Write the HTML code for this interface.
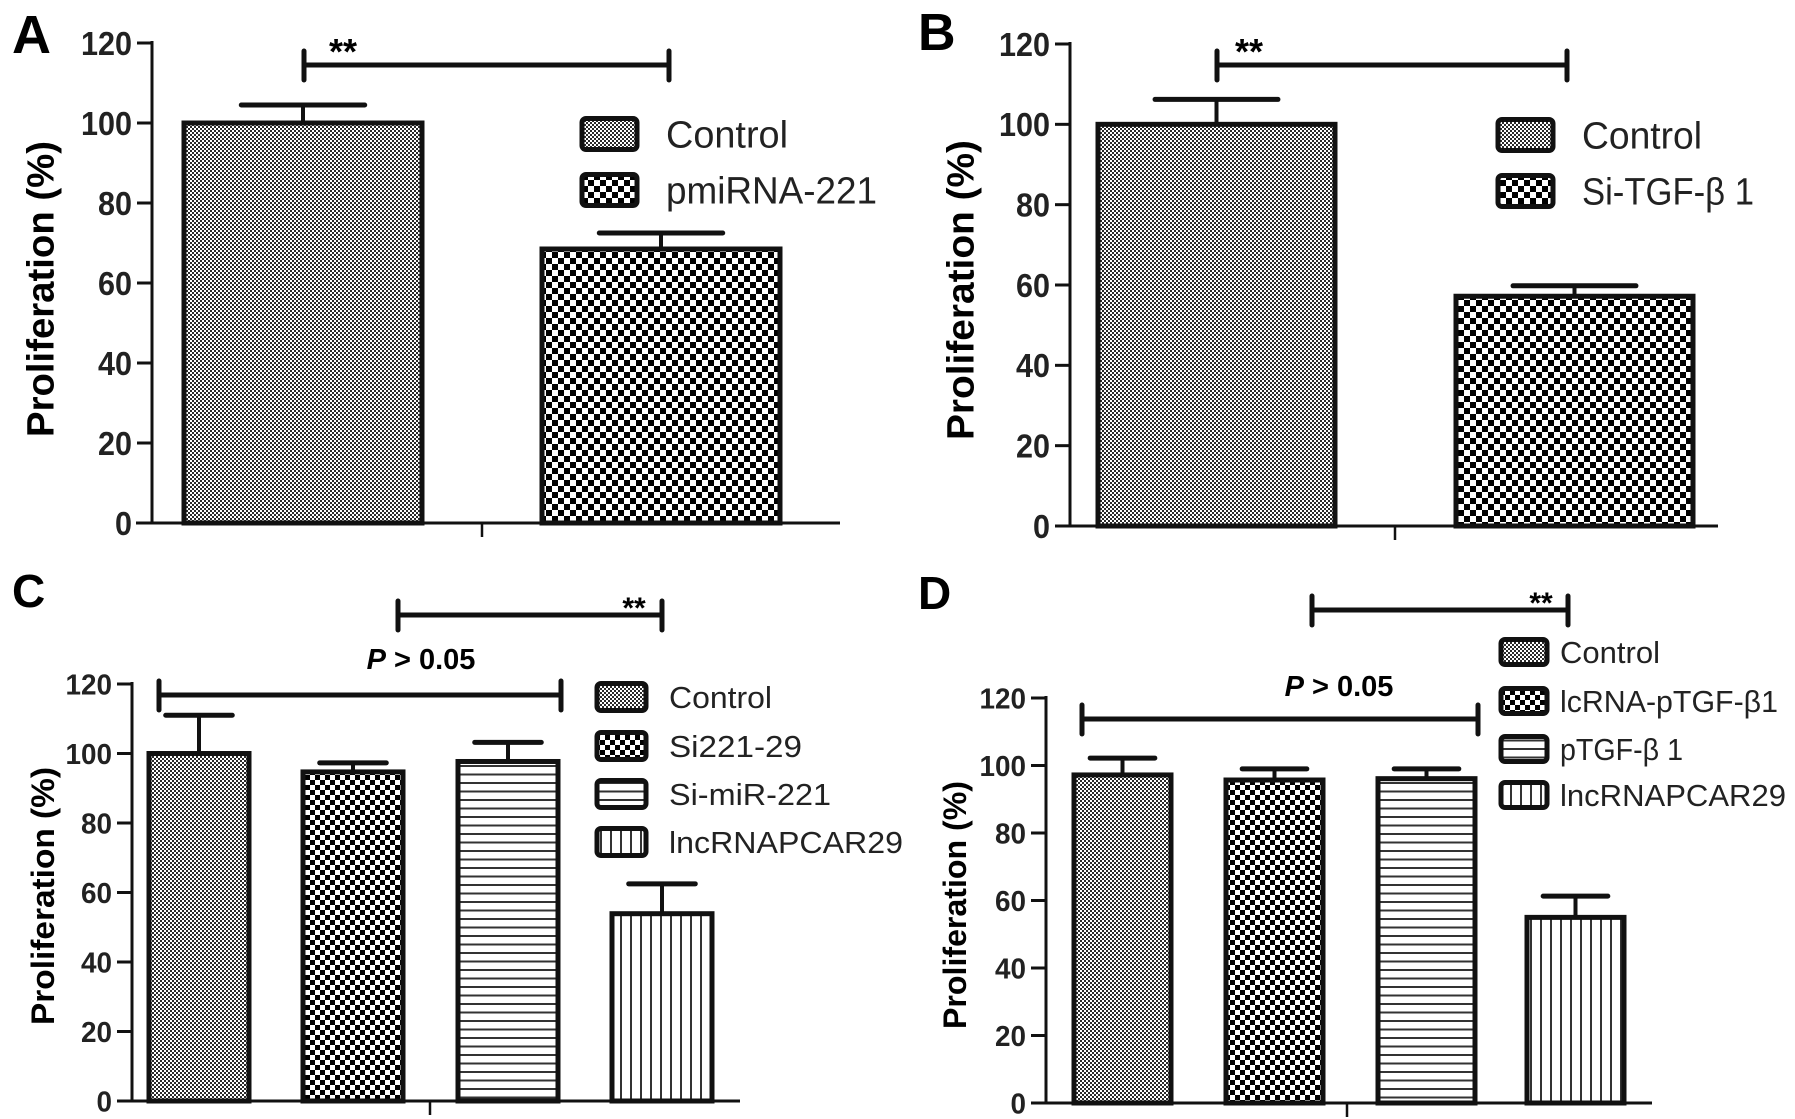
<!DOCTYPE html>
<html><head><meta charset="utf-8"><style>
html,body{margin:0;padding:0;background:#fff;}
svg{display:block;font-family:"Liberation Sans",Arial,sans-serif;}
</style></head><body>
<svg id="fig" width="1795" height="1119" viewBox="0 0 1795 1119" xmlns="http://www.w3.org/2000/svg">
<defs>
<pattern id="pFine" width="4" height="4" patternUnits="userSpaceOnUse"><rect width="4" height="4" fill="#fff"/><rect width="2" height="2" fill="#2a2a2a"/><rect x="2" y="2" width="2" height="2" fill="#2a2a2a"/></pattern>
<pattern id="pCheck" width="12" height="12" patternUnits="userSpaceOnUse"><rect width="12" height="12" fill="#fff"/><rect width="6" height="6" fill="#000"/><rect x="6" y="6" width="6" height="6" fill="#000"/></pattern>
<pattern id="pCheckS" width="10" height="10" patternUnits="userSpaceOnUse"><rect width="10" height="10" fill="#fff"/><rect width="5" height="5" fill="#000"/><rect x="5" y="5" width="5" height="5" fill="#000"/></pattern>
<pattern id="pHoriz" width="8" height="8.5" patternUnits="userSpaceOnUse"><rect width="8" height="8.5" fill="#fff"/><rect y="0" width="8" height="2" fill="#333"/></pattern>
<pattern id="pVert" width="10" height="8" patternUnits="userSpaceOnUse"><rect width="10" height="8" fill="#fff"/><rect x="0" width="2" height="8" fill="#333"/></pattern>
</defs>
</svg>
<script>
// Panel A data
const catsA = ["Control", "pmiRNA-221"];
const valsA = [100, 68.5];
const errsA = [104.5, 72.5];
// Panel B data
const catsB = ["Control", "Si-TGF-β 1"];
const valsB = [100, 57.2];
const errsB = [106.2, 59.8];
// Panel C data
const catsC = ["Control", "Si221-29", "Si-miR-221", "lncRNAPCAR29"];
const valsC = [100, 94.7, 97.7, 53.9];
const errsC = [111, 97.3, 103.2, 62.5];
// Panel D data
const catsD = ["Control", "lcRNA-pTGF-β1", "pTGF-β 1", "lncRNAPCAR29"];
const valsD = [97.2, 95.7, 96.1, 55];
const errsD = [102.2, 99, 99, 61.3];
// Shared ticks
const yTicks = [0, 20, 40, 60, 80, 100, 120];

const NS = "http://www.w3.org/2000/svg";
const svg = document.getElementById("fig");
function mk(tag, attrs, parent, txt){
  const e = document.createElementNS(NS, tag);
  for (const k in attrs) e.setAttribute(k, attrs[k]);
  if (txt !== undefined) e.textContent = txt;
  (parent || svg).appendChild(e);
  return e;
}

function panel(c){
  const g = mk("g", {});
  
  
  const y = v => c.y0 - (v/120)*(c.y0 - c.y120);
  const L = mk("text", {x:c.letter[0], y:c.letter[1], "font-size":c.letter[2], "font-weight":"bold"}, g, c.letterTxt);
  
  
  const T = mk("text", {x:0, y:0, "font-size":c.title[3], "font-weight":"bold", "text-anchor":"middle",
    transform:`translate(${c.title[0]},${c.title[1]}) rotate(-90)`, textLength:c.title[2], lengthAdjust:"spacingAndGlyphs", dy:"0.35em"}, g, "Proliferation (%)");
  
  
  c.cats.forEach((cat, i) => {
    const x0 = c.barX[i], w = c.barW;
    const top = y(c.vals[i]);
    const eb = mk("g", {}, g);
    
    
    const ey = y(c.errs[i]);
    const cx = x0 + w/2, cw = w*c.capR/2;
    mk("line", {x1:cx, x2:cx, y1:top, y2:ey, stroke:"#111", "stroke-width":4}, eb);
    mk("line", {x1:cx-cw, x2:cx+cw, y1:ey, y2:ey, stroke:"#111", "stroke-width":5, "stroke-linecap":"round"}, eb);
    const r = mk("rect", {x:x0+2, y:top, width:w-4, height:c.y0-top, fill:`url(#${c.pats[i]})`, stroke:"#111", "stroke-width":5}, g);
    
    
  });
  const ax = mk("g", {}, g);
  
  
  mk("line", {x1:c.axX, x2:c.axX, y1:y(120)-2, y2:c.y0, stroke:"#111", "stroke-width":3}, ax);
  yTicks.forEach(t => {
    mk("line", {x1:c.axX-15, x2:c.axX, y1:y(t), y2:y(t), stroke:"#111", "stroke-width":3}, ax);
    const s = String(t);
    const tl = mk("text", {x:c.axX-20, y:y(t), dy:"0.36em", "text-anchor":"end", "font-size":c.tickF, "font-weight":"bold",
      textLength:s.length*c.tickW, lengthAdjust:"spacingAndGlyphs", fill:"#222"}, ax, s);
    
    
  });
  const xa = mk("g", {}, g);
  
  
  mk("line", {x1:c.xAx[0], x2:c.xAx[1], y1:c.y0, y2:c.y0, stroke:"#111", "stroke-width":3}, xa);
  mk("line", {x1:c.xAx[2], x2:c.xAx[2], y1:c.y0, y2:c.y0+14, stroke:"#111", "stroke-width":2.5}, xa);
  c.brackets.forEach(b => {
    const bg = mk("g", {}, g);
    
    
    mk("line", {x1:b.x1, x2:b.x2, y1:b.y, y2:b.y, stroke:"#111", "stroke-width":5}, bg);
    mk("line", {x1:b.x1, x2:b.x1, y1:b.y-14, y2:b.y+15, stroke:"#111", "stroke-width":5, "stroke-linecap":"round"}, bg);
    mk("line", {x1:b.x2, x2:b.x2, y1:b.y-14, y2:b.y+15, stroke:"#111", "stroke-width":5, "stroke-linecap":"round"}, bg);
    if (b.p) {
      const t = mk("text", {x:b.tx, y:b.ty, "font-size":b.fs, "font-weight":"bold", "text-anchor":"middle"}, bg);
      mk("tspan", {"font-style":"italic"}, t, "P");
      mk("tspan", {}, t, " > 0.05");
    } else {
      mk("text", {x:b.tx, y:b.ty, "font-size":b.fs, "font-weight":"bold", "text-anchor":"middle"}, bg, "**");
    }
  });
  c.cats.forEach((cat, i) => {
    const lg = mk("g", {}, g);
    
    
    const by = c.leg.y[i];
    mk("rect", {x:c.leg.bx, y:by - c.leg.bh/2, width:c.leg.bw, height:c.leg.bh, rx:4, fill:`url(#${c.pats[i]})`, stroke:"#111", "stroke-width":5}, lg);
    mk("text", {x:c.leg.tx, y:by, dy:"0.36em", "font-size":c.leg.fs, textLength:c.leg.tw[i], lengthAdjust:"spacingAndGlyphs", fill:"#222"}, lg, cat);
  });
}

panel({name:"panel-a", letterTxt:"A", letter:[12,53,54], title:[40,289,296,38],
  cats:catsA, vals:valsA, errs:errsA, y0:523, y120:43, axX:152, tickF:33, tickW:17,
  barX:[182,540], barW:242, capR:0.51, pats:["pFine","pCheck"], xAx:[136,840,482],
  brackets:[{x1:304,x2:669,y:65,tx:343,ty:64,fs:36}],
  leg:{bx:582,bw:55,bh:31,y:[134,190],tx:666,fs:38,tw:[122,211]}});

panel({name:"panel-b", letterTxt:"B", letter:[918,50,52], title:[960,290,300,38],
  cats:catsB, vals:valsB, errs:errsB, y0:526, y120:44, axX:1070, tickF:33, tickW:17,
  barX:[1096,1454], barW:241, capR:0.51, pats:["pFine","pCheck"], xAx:[1058,1718,1395],
  brackets:[{x1:1217,x2:1567,y:65,tx:1249,ty:64,fs:36}],
  leg:{bx:1498,bw:55,bh:31,y:[135,191],tx:1582,fs:38,tw:[120,172]}});

panel({name:"panel-c", letterTxt:"C", letter:[12,607,46], title:[43,896,258,32],
  cats:catsC, vals:valsC, errs:errsC, y0:1101, y120:684, axX:132, tickF:29, tickW:15.5,
  barX:[147,301,456,610], barW:104, capR:0.64, pats:["pFine","pCheckS","pHoriz","pVert"], xAx:[118,740,430],
  brackets:[{x1:159,x2:561,y:695,tx:421,ty:669,fs:29,p:true},{x1:398,x2:662,y:615,tx:634,ty:618,fs:30}],
  leg:{bx:597,bw:49,bh:27,y:[697,746,794,842],tx:669,fs:31,tw:[103,133,162,234]}});

panel({name:"panel-d", letterTxt:"D", letter:[918,609,46], title:[955,905,248,32],
  cats:catsD, vals:valsD, errs:errsD, y0:1103, y120:698, axX:1046, tickF:29, tickW:15.5,
  barX:[1072,1224,1376,1525], barW:101, capR:0.64, pats:["pFine","pCheckS","pHoriz","pVert"], xAx:[1035,1652,1347],
  brackets:[{x1:1082,x2:1478,y:719,tx:1339,ty:696,fs:29,p:true},{x1:1312,x2:1568,y:610,tx:1541,ty:613,fs:30}],
  leg:{bx:1501,bw:46,bh:25,y:[652,701,749,795],tx:1560,fs:31,tw:[100,218,123,226]}});
</script>
</body></html>
